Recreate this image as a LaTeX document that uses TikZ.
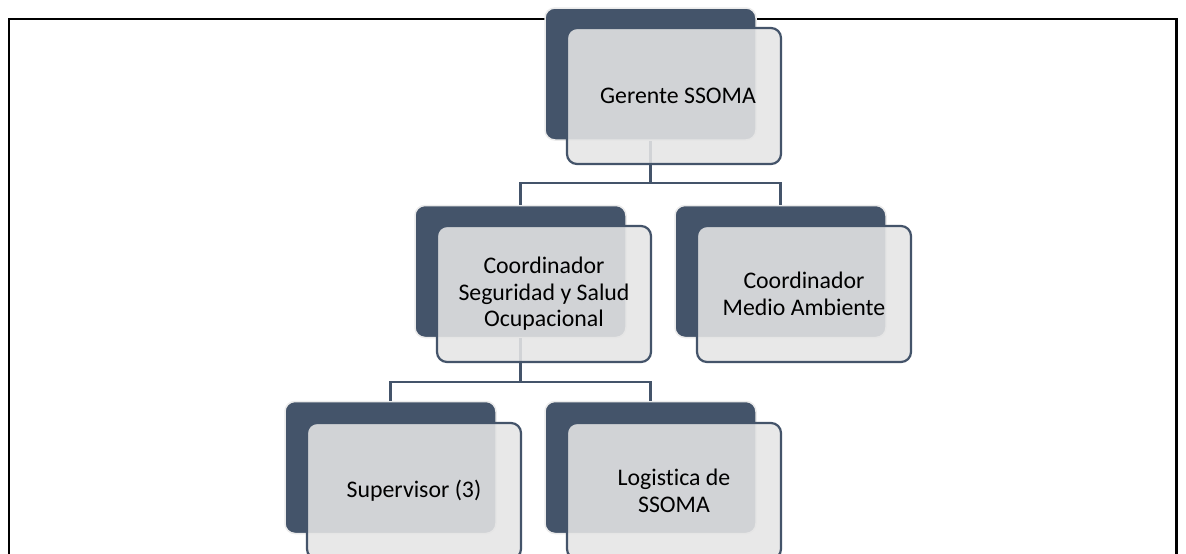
\documentclass[tikz,border=0pt]{standalone}
\usepackage{fontspec}
\setmainfont[Ligatures=NoCommon]{Carlito}
\definecolor{darkb}{HTML}{44546A}
\definecolor{lightb}{HTML}{E5E5E5}
\tikzset{
  darkbox/.style={draw=black!8, line width=1.5pt, fill=darkb, rounded corners=10pt, minimum width=211pt, minimum height=132pt, inner sep=0pt},
  lightbox/.style={draw=darkb, line width=2.2pt, fill=lightb, fill opacity=0.88, text opacity=1, rounded corners=10pt, minimum width=214pt, minimum height=136pt, inner sep=0pt, align=center, font=\fontsize{23.8pt}{26.5pt}\selectfont},
  conn/.style={draw=darkb, line width=2.4pt}
}
\begin{document}
\begin{tikzpicture}[x=1pt,y=-1pt]
\useasboundingbox (0,0) rectangle (1186,554);
\fill[white] (0,0) rectangle (1186,554);
\clip (0,0) rectangle (1186,554);
\draw[black, line width=2.4pt] (8.7,600) -- (8.7,18.7) -- (1176.3,18.7) -- (1176.3,600);
% dark boxes
\node[darkbox] (gd) at (650.5,74) {};
\node[darkbox] (c1d) at (520.5,271.5) {};
\node[darkbox] (c2d) at (780.5,271.5) {};
\node[darkbox] (s1d) at (390.5,467.5) {};
\node[darkbox] (s2d) at (650.5,467.5) {};
% connectors
\coordinate (j1) at (650.5,183);
\coordinate (j2) at (520.5,382);
\draw[conn] (gd.south) -- (j1) -| (c1d.north);
\draw[conn] (j1) -| (c2d.north);
\draw[conn] (c1d.south) -- (j2) -| (s1d.north);
\draw[conn] (j2) -| (s2d.north);
% light boxes
\node[lightbox] (g) at (674,96) {\hspace*{8pt}Gerente SSOMA};
\node[lightbox] (c1) at (544,294) {Coordinador\\Seguridad y Salud\\Ocupacional};
\node[lightbox] (c2) at (804,294) {Coordinador\\Medio Ambiente};
\node[lightbox] (s1) at (414,491) {Supervisor (3)};
\node[lightbox] (s2) at (674,491) {Logistica de\\SSOMA};
\end{tikzpicture}
\end{document}
